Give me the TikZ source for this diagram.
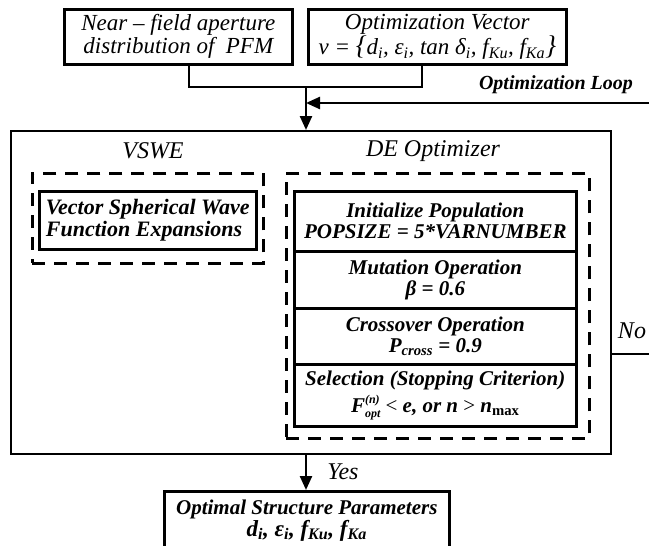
\documentclass[tikz,border=0pt]{standalone}
\usepackage{fontspec}
\setmainfont{Liberation Serif}
\usetikzlibrary{arrows.meta}
\newcommand\sbs[1]{\textsubscript{#1}}
\newcommand\supsub[2]{\rlap{\raisebox{9pt}{\fontsize{12}{12}\selectfont #1}}\raisebox{-5pt}{\fontsize{12}{12}\selectfont #2}}
\begin{document}
\begin{tikzpicture}[x=1pt,y=-1pt,
  solidbox/.style={draw,line width=2.6pt,inner sep=0pt,anchor=north west},
  dashbox/.style={draw,line width=2.8pt,dash pattern=on 13pt off 9pt,inner sep=0pt,anchor=north west},
  mainbox/.style={draw,line width=2.4pt,inner sep=0pt,anchor=north west},
  conn/.style={line width=2.4pt},
  arr/.style={line width=2.4pt,-{Triangle[length=14pt,width=12pt]}},
  ttop/.style={font=\fontsize{23}{23}\selectfont\itshape,align=center},
  tbi/.style={font=\fontsize{21}{21}\selectfont\bfseries\itshape,align=center},
  lab/.style={font=\fontsize{24}{24}\selectfont\itshape}]
\useasboundingbox (0,0) rectangle (649,546);
% top boxes
\node[solidbox,minimum width=228pt,minimum height=55pt] (b1) at (63,8) {};
\node[ttop] (t1) at (b1.center) {Near – field aperture\\distribution of \ PFM};
\node[solidbox,minimum width=258pt,minimum height=55pt] (b2) at (307,8) {};
\node[ttop] (t2) at (b2.center) {Optimization Vector\\ v = {\fontsize{27}{23}\selectfont\{}d\sbs{i}, ε\sbs{i}, tan δ\sbs{i}, f\sbs{Ku}, f\sbs{Ka}{\fontsize{27}{23}\selectfont\}}};
% junction
\coordinate (j1) at (189,87);
\coordinate (j2) at (422,87);
\coordinate (j0) at (306,87);
\draw[conn] (b1.south -| j1) -- (j1) -- (j2) -- (b2.south -| j2);
% main box
\node[mainbox,minimum width=600pt,minimum height=323pt] (main) at (10,130) {};
\draw[arr] (j0) -- (j0 |- main.north);
\coordinate (loopR) at (649,103);
\coordinate (loopL) at (306,103);
\draw[arr] (loopR) -- (loopL);
\node[font=\fontsize{20}{20}\selectfont\bfseries\itshape] (loopt) at (556,85) {Optimization Loop};
% labels
\node[lab] (vswe) at (153,151) {VSWE};
\node[lab] (deo) at (433,151) {DE Optimizer};
% VSWE
\node[dashbox,minimum width=231pt,minimum height=90pt] (vd) at (31,172) {};
\node[solidbox,minimum width=217pt,minimum height=58pt] (vs) at (38,190) {};
\node[tbi,align=left,font=\fontsize{22}{22}\selectfont\bfseries\itshape] (vt) at (vs.center) {Vector Spherical Wave\\Function Expansions};
% DE
\node[dashbox,minimum width=303pt,minimum height=265pt] (dd) at (285,172) {};
\node[solidbox,minimum width=282pt,minimum height=60pt] (s1) at (293,190) {};
\node[solidbox,minimum width=282pt,minimum height=57pt] (s2) at (293,250) {};
\node[solidbox,minimum width=282pt,minimum height=56pt] (s3) at (293,307) {};
\node[solidbox,minimum width=282pt,minimum height=62pt] (s4) at (293,363) {};
\node[tbi] (st1) at (s1.center) {Initialize Population\\POPSIZE = 5*VARNUMBER};
\node[tbi] (st2) at (s2.center) {Mutation Operation\\β = 0.6};
\node[tbi] (st3) at (s3.center) {Crossover Operation\\P\sbs{cross} = 0.9};
\node[tbi] (st4) at (s4.center) {Selection (Stopping Criterion)\\[4pt]F\supsub{(n)}{opt}\ {\upshape\mdseries<} e, or n {\upshape\mdseries>} n\sbs{\upshape max}};
% No
\coordinate (noR) at (649,354);
\draw[conn] (main.east |- noR) -- (noR);
\node[lab] (no) at (632,331) {No};
% Yes
\node[solidbox,minimum width=285pt,minimum height=58pt] (out) at (163,490) {};
\node[font=\fontsize{21}{22}\selectfont\bfseries\itshape,align=center] (outt) at (out.center) {Optimal Structure Parameters\\{\fontsize{23}{22}\selectfont d\sbs{i}, ε\sbs{i}, f\sbs{Ku}, f\sbs{Ka}}};
\draw[arr] (main.south -| j0) -- (out.north -| j0);
\node[lab] (yes) at (343,472) {Yes};
\end{tikzpicture}
\end{document}
